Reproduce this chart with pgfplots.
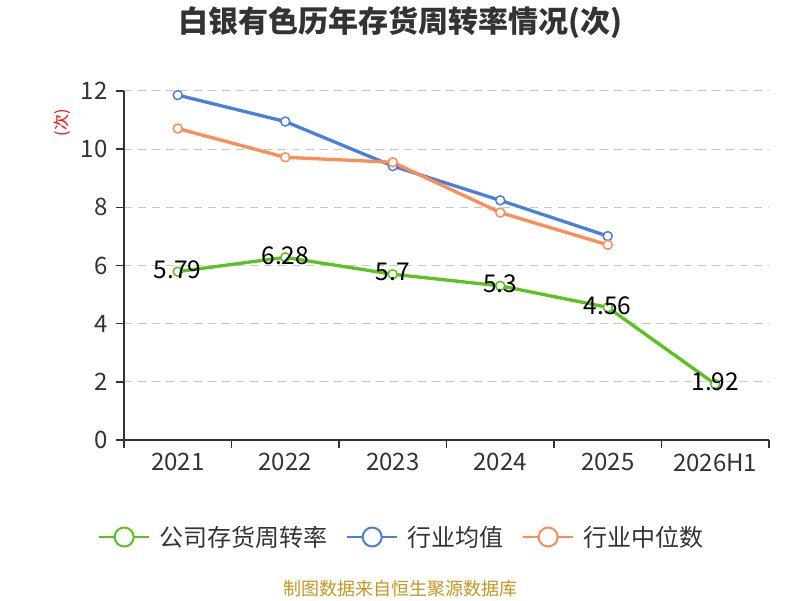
\documentclass[border=0pt]{standalone}
\usepackage{pgfplots}
\pgfplotsset{compat=1.18}
\usepackage{fontspec}
\setmainfont{Noto Sans CJK SC}
\definecolor{cgreen}{HTML}{5AC31E}
\definecolor{cblue}{HTML}{4A7FE2}
\definecolor{corange}{HTML}{FF8B55}
\definecolor{ctext}{HTML}{333333}
\definecolor{cgrid}{HTML}{C8C8C8}
\definecolor{cfoot}{HTML}{C8961E}
\begin{document}
\begin{tikzpicture}[x=1pt,y=1pt]
\path[use as bounding box] (0,0) rectangle (800,600);
\node[font=\fontsize{30}{34}\selectfont\bfseries, text=ctext] at (400,577) {白银有色历年存货周转率情况(次)};
\node[rotate=90, text=red, font=\fontsize{16}{18}\selectfont] at (62,477) {(次)};
\node[font=\fontsize{18}{20}\selectfont, text=cfoot] at (400,11) {制图数据来自恒生聚源数据库};
\begin{axis}[
  at={(124pt,160pt)}, anchor=south west,
  width=645pt, height=349pt, scale only axis,
  xmin=-0.5, xmax=5.5, ymin=0, ymax=12,
  axis lines*=left,
  axis line style={draw=ctext, line width=1.5pt},
  xtick={-0.5,0.5,...,5.5}, xticklabels={},
  extra x ticks={0,1,2,3,4,5},
  extra x tick labels={2021,2022,2023,2024,2025,2026H1},
  extra x tick style={major tick length=0pt, grid=none, xticklabel style={yshift=-10pt}},
  ytick={0,2,...,12},
  tick align=outside, major tick length=8pt,
  tick style={draw=ctext, line width=1.5pt},
  ymajorgrids, xmajorgrids=false,
  grid style={draw=cgrid, line width=1pt, dash pattern=on 8pt off 6pt},
  ticklabel style={font=\fontsize{24}{26}\selectfont, text=ctext},
  yticklabel style={xshift=-5pt},
  /pgf/number format/assume math mode=true,
  legend columns=3,
  legend style={at={(-0.0403,-0.278)}, anchor=west, draw=none, fill=none, inner sep=0pt,
    font=\fontsize{24}{27}\selectfont, text=ctext,
    /tikz/every odd column/.append style={column sep=7pt},
    /tikz/every even column/.append style={column sep=17pt},
    cells={anchor=west}},
  legend image code/.code={\draw[line width=2pt] (0pt,0pt) -- (50pt,0pt); \draw[line width=2pt, fill=white] (25pt,0pt) circle (9.5pt);},
  nodes near coords style={anchor=center, yshift=2pt, text=black, font=\fontsize{24.5}{26}\selectfont},
]
\addplot[cgreen, line width=3.3pt, mark=*, mark size=4.5pt, mark options={fill=white, line width=1.5pt},
  nodes near coords] coordinates {(0,5.79)(1,6.28)(2,5.7)(3,5.3)(4,4.56)(5,1.92)};
\addlegendentry{公司存货周转率}
\addplot[cblue, line width=3.3pt, mark=*, mark size=4.5pt, mark options={fill=white, line width=1.5pt}]
  coordinates {(0,11.86)(1,10.95)(2,9.42)(3,8.24)(4,7.01)};
\addlegendentry{行业均值}
\addplot[corange, line width=3.3pt, mark=*, mark size=4.5pt, mark options={fill=white, line width=1.5pt}]
  coordinates {(0,10.71)(1,9.72)(2,9.55)(3,7.82)(4,6.71)};
\addlegendentry{行业中位数}
\end{axis}
\end{tikzpicture}
\end{document}
